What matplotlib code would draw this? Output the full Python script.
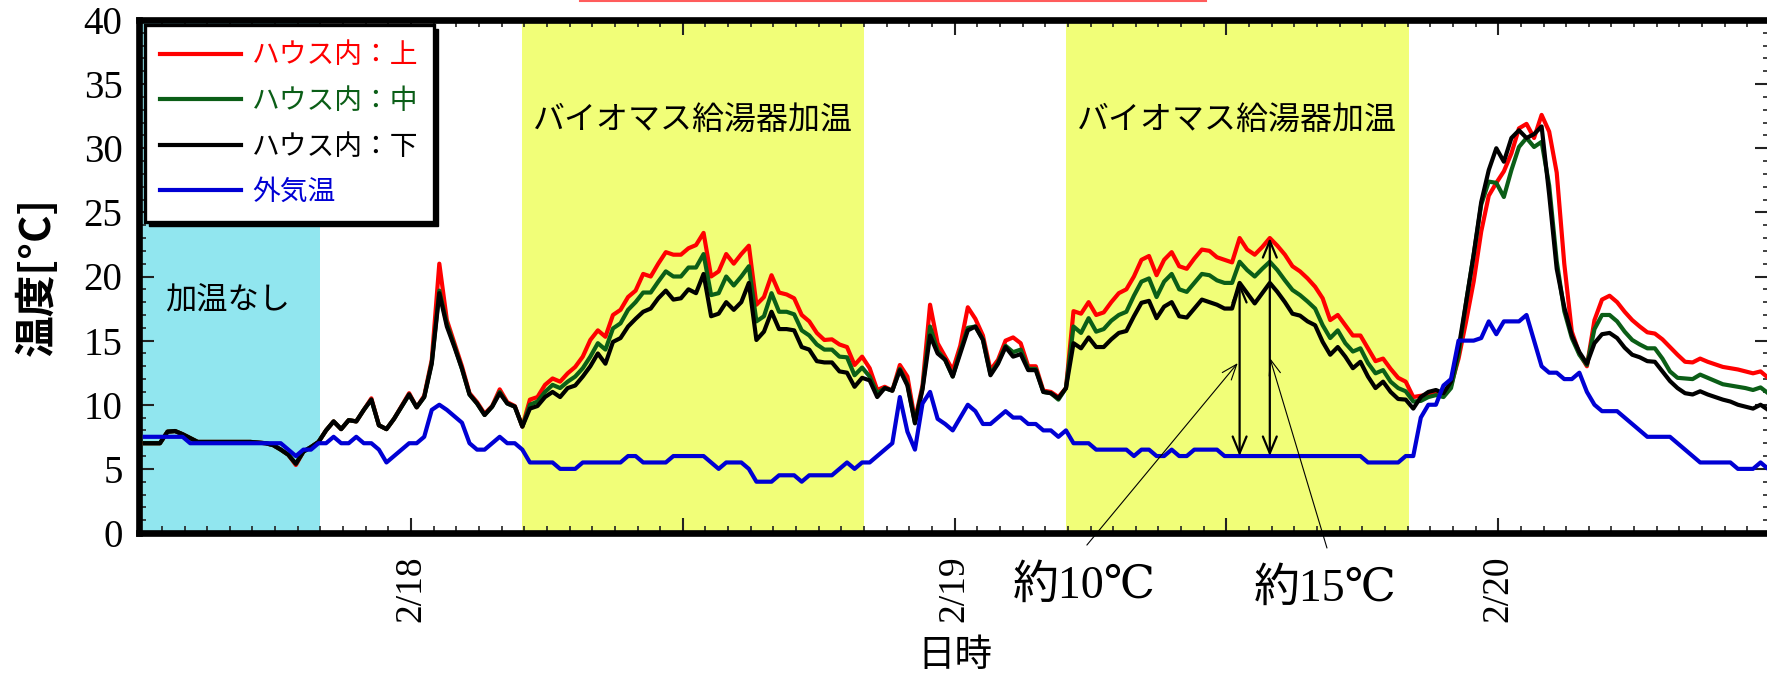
import numpy as np
import matplotlib.pyplot as plt
from matplotlib.lines import Line2D
from matplotlib.patches import Rectangle
from matplotlib.transforms import IdentityTransform
from matplotlib.ticker import FixedLocator, MultipleLocator, FuncFormatter

# 20分間隔の温度データ（2/17 12:15 から）
inside_top = [
    7.0, 7.0, 7.0, 7.9, 7.95, 7.7, 7.4, 7.1, 7.1, 7.1, 7.1, 7.1,
    7.1, 7.1, 7.1, 7.05, 7.0, 6.85, 6.5, 6.1, 5.3, 6.35, 6.7, 7.1,
    8.0, 8.7, 8.1, 8.8, 8.7, 9.6, 10.5, 8.4, 8.1, 8.9, 9.9, 10.9,
    9.8, 10.7, 13.5, 21.0, 16.6, 14.8, 13.0, 10.9, 10.2, 9.3, 9.9, 11.2,
    10.2, 9.9, 8.3, 10.4, 10.6, 11.55, 12.05, 11.8, 12.45, 12.95, 13.75, 15.05,
    15.8, 15.3, 17.0, 17.4, 18.4, 18.9, 20.2, 20.0, 21.0, 21.9, 21.7, 21.7,
    22.2, 22.45, 23.4, 20.0, 20.4, 21.75, 21.0, 21.75, 22.4, 17.8, 18.4, 20.1,
    18.75, 18.6, 18.3, 17.0, 16.5, 15.6, 15.05, 15.1, 14.7, 14.5, 13.1, 13.75,
    12.85, 11.15, 11.4, 11.1, 13.1, 12.2, 8.8, 11.5, 17.8, 14.8, 13.75, 12.7,
    14.6, 17.6, 16.7, 15.4, 12.7, 13.5, 15.0, 15.25, 14.8, 13.0, 13.0, 11.1,
    11.0, 10.6, 11.3, 17.3, 17.1, 18.0, 17.0, 17.2, 18.0, 18.7, 19.0, 20.0,
    21.3, 21.6, 20.1, 21.3, 21.9, 20.8, 20.6, 21.4, 22.1, 22.0, 21.5, 21.3,
    21.1, 23.0, 22.1, 21.7, 22.3, 23.0, 22.4, 21.7, 20.8, 20.4, 19.85, 19.2,
    18.3, 16.6, 17.0, 16.2, 15.4, 15.4, 14.4, 13.4, 13.6, 12.8, 12.1, 11.8,
    10.6, 10.7, 10.8, 10.9, 10.9, 11.5, 13.6, 16.5, 19.6, 23.5, 26.3, 27.3,
    28.2, 29.6, 31.55, 31.9, 30.8, 32.6, 31.3, 28.1, 21.0, 15.7, 14.0, 13.0,
    16.6, 18.2, 18.5, 18.0, 17.25, 16.6, 16.1, 15.65, 15.55, 15.1, 14.5, 13.9,
    13.35, 13.3, 13.6, 13.35, 13.15, 12.95, 12.85, 12.75, 12.6, 12.45, 12.6, 12.1,
]
inside_mid = [
    7.0, 7.0, 7.0, 7.9, 7.95, 7.7, 7.4, 7.1, 7.1, 7.1, 7.1, 7.1,
    7.1, 7.1, 7.1, 7.05, 7.0, 6.85, 6.5, 6.1, 5.4, 6.35, 6.7, 7.1,
    8.0, 8.7, 8.1, 8.8, 8.7, 9.6, 10.4, 8.4, 8.1, 8.9, 9.85, 10.8,
    9.8, 10.6, 13.3, 18.9, 16.3, 14.6, 12.8, 10.8, 10.1, 9.2, 9.85, 11.0,
    10.1, 9.85, 8.3, 10.0, 10.25, 11.0, 11.55, 11.3, 11.8, 12.2, 12.85, 13.75,
    14.8, 14.3, 15.95, 16.35, 17.4, 18.0, 18.75, 18.75, 19.6, 20.4, 20.0, 20.0,
    20.7, 20.7, 21.75, 18.55, 18.7, 20.0, 19.3, 20.0, 20.8, 16.5, 16.9, 18.7,
    17.25, 17.25, 17.05, 15.8, 15.4, 14.7, 14.3, 14.3, 13.75, 13.7, 12.3, 12.9,
    12.2, 10.9, 11.3, 11.1, 12.8, 11.6, 8.6, 11.3, 16.1, 14.2, 13.5, 12.2,
    14.2, 16.0, 16.1, 15.1, 12.4, 13.3, 14.6, 14.1, 14.3, 12.8, 12.8, 11.0,
    10.9, 10.4, 11.3, 16.1, 15.6, 16.75, 15.7, 15.9, 16.55, 17.0, 17.25, 18.5,
    19.6, 19.85, 18.4, 19.6, 20.2, 19.0, 18.8, 19.5, 20.2, 20.1, 19.7, 19.5,
    19.5, 21.15, 20.5, 20.0, 20.6, 21.15, 20.5, 19.7, 18.95, 18.55, 18.05, 17.5,
    16.2, 15.2, 15.8, 14.8, 14.15, 14.4, 13.25, 12.45, 12.7, 11.8, 11.3, 11.05,
    10.25, 10.3, 10.6, 10.75, 10.6, 11.3, 13.9, 18.0, 21.7, 25.6, 27.4, 27.3,
    26.2, 28.3, 30.1, 30.8, 30.1, 30.5, 27.1, 21.2, 17.3, 15.2, 13.9, 13.1,
    15.9, 17.0, 17.0, 16.5, 15.7, 15.05, 14.7, 14.4, 14.4, 13.6, 12.6, 12.1,
    12.05, 12.0, 12.35, 12.1, 11.85, 11.6, 11.5, 11.4, 11.3, 11.15, 11.35, 10.9,
]
inside_low = [
    7.0, 7.0, 7.0, 7.9, 7.95, 7.7, 7.4, 7.1, 7.1, 7.1, 7.1, 7.1,
    7.1, 7.1, 7.1, 7.05, 7.0, 6.85, 6.5, 6.1, 5.4, 6.35, 6.7, 7.1,
    8.0, 8.7, 8.1, 8.8, 8.7, 9.6, 10.4, 8.4, 8.1, 8.9, 9.85, 10.8,
    9.8, 10.6, 13.2, 18.7, 16.1, 14.5, 12.8, 10.8, 10.1, 9.2, 9.85, 10.9,
    10.1, 9.85, 8.3, 9.7, 9.9, 10.6, 11.0, 10.6, 11.3, 11.5, 12.2, 13.0,
    14.0, 13.2, 14.9, 15.2, 16.1, 16.7, 17.25, 17.5, 18.3, 18.9, 18.2, 18.3,
    19.0, 18.7, 20.2, 16.9, 17.1, 18.0, 17.4, 18.0, 19.5, 15.05, 15.7, 17.25,
    15.9, 15.9, 15.8, 14.5, 14.3, 13.4, 13.3, 13.3, 12.6, 12.5, 11.4, 12.1,
    11.9, 10.6, 11.3, 11.1, 12.7, 11.5, 8.55, 11.2, 15.4, 14.0, 13.5, 12.2,
    14.0, 15.8, 16.1, 15.05, 12.3, 13.2, 14.5, 13.75, 13.95, 12.7, 12.7, 11.0,
    10.9, 10.5, 11.3, 14.8, 14.4, 15.25, 14.5, 14.5, 15.1, 15.6, 15.75, 16.9,
    17.95, 18.1, 16.75, 17.65, 18.0, 16.9, 16.8, 17.5, 18.2, 18.0, 17.8, 17.5,
    17.5, 19.5, 18.7, 17.9, 18.7, 19.5, 18.8, 18.0, 17.1, 16.95, 16.5, 16.2,
    14.9, 13.9, 14.5, 13.75, 12.85, 13.35, 12.2, 11.3, 11.8, 11.0, 10.45, 10.4,
    9.7, 10.6, 11.0, 11.15, 10.9, 11.8, 14.4, 18.0, 21.7, 25.8, 28.3, 30.0,
    28.95, 30.8, 31.4, 30.8, 31.1, 31.7, 26.4, 20.6, 17.6, 15.4, 14.1, 13.2,
    14.8, 15.5, 15.6, 15.2, 14.45, 13.9, 13.7, 13.4, 13.35, 12.6, 11.85, 11.3,
    10.9, 10.8, 11.05, 10.8, 10.6, 10.4, 10.25, 10.0, 9.85, 9.7, 10.0, 9.6,
]
outside = [
    7.5, 7.5, 7.5, 7.5, 7.5, 7.5, 7.0, 7.0, 7.0, 7.0, 7.0, 7.0,
    7.0, 7.0, 7.0, 7.0, 7.0, 7.0, 7.0, 6.5, 6.0, 6.5, 6.5, 7.0,
    7.0, 7.5, 7.0, 7.0, 7.5, 7.0, 7.0, 6.5, 5.5, 6.0, 6.5, 7.0,
    7.0, 7.5, 9.6, 10.0, 9.6, 9.1, 8.6, 7.0, 6.5, 6.5, 7.0, 7.5,
    7.0, 7.0, 6.5, 5.5, 5.5, 5.5, 5.5, 5.0, 5.0, 5.0, 5.5, 5.5,
    5.5, 5.5, 5.5, 5.5, 6.0, 6.0, 5.5, 5.5, 5.5, 5.5, 6.0, 6.0,
    6.0, 6.0, 6.0, 5.5, 5.0, 5.5, 5.5, 5.5, 5.0, 4.0, 4.0, 4.0,
    4.5, 4.5, 4.5, 4.0, 4.5, 4.5, 4.5, 4.5, 5.0, 5.5, 5.0, 5.5,
    5.5, 6.0, 6.5, 7.0, 10.6, 7.9, 6.5, 10.1, 11.0, 8.9, 8.5, 8.0,
    9.0, 10.0, 9.5, 8.5, 8.5, 9.0, 9.5, 9.0, 9.0, 8.5, 8.5, 8.0,
    8.0, 7.5, 8.0, 7.0, 7.0, 7.0, 6.5, 6.5, 6.5, 6.5, 6.5, 6.0,
    6.5, 6.5, 6.0, 6.0, 6.5, 6.0, 6.0, 6.5, 6.5, 6.5, 6.5, 6.0,
    6.0, 6.0, 6.0, 6.0, 6.0, 6.0, 6.0, 6.0, 6.0, 6.0, 6.0, 6.0,
    6.0, 6.0, 6.0, 6.0, 6.0, 6.0, 5.5, 5.5, 5.5, 5.5, 5.5, 6.0,
    6.0, 9.0, 10.0, 10.0, 11.5, 12.0, 15.0, 15.0, 15.0, 15.2, 16.5, 15.5,
    16.5, 16.5, 16.5, 17.0, 15.0, 13.0, 12.5, 12.5, 12.0, 12.0, 12.5, 11.0,
    10.0, 9.5, 9.5, 9.5, 9.0, 8.5, 8.0, 7.5, 7.5, 7.5, 7.5, 7.0,
    6.5, 6.0, 5.5, 5.5, 5.5, 5.5, 5.5, 5.0, 5.0, 5.0, 5.5, 5.0,
]

labels = ['ハウス内：上', 'ハウス内：中', 'ハウス内：下', '外気温']
colors = ['#ff0000', '#0b5e17', '#000000', '#0000d4']

# 2/17 12:00 からの経過時間 [h]
no_heat = (0.0, 8.0)
heat_periods = [(16.9, 32.0), (40.9, 56.05)]
day_ticks = [12, 36, 60]
day_labels = ['2/18', '2/19', '2/20']

hours = 0.25 + np.arange(len(inside_top)) / 3.0

jp = 'Noto Sans CJK JP'
serif = 'Liberation Serif'

fig = plt.figure(figsize=(17.67, 6.76), dpi=100)
ax = fig.add_axes([139.2 / 1767, 143 / 676, 1630.8 / 1767, 513 / 676])

ax.axvspan(*no_heat, color='#91e6ef', lw=0, zorder=0)
for a, b in heat_periods:
    ax.axvspan(a, b, color='#f1fe78', lw=0, zorder=0)

for y, lab, c in zip([inside_top, inside_mid, inside_low, outside], labels, colors):
    ax.plot(hours, y, color=c, lw=3.0, label=lab, zorder=3)

ax.set_xlim(0, 72)
ax.set_ylim(0, 40)

ax.xaxis.set_major_locator(FixedLocator(np.arange(0, 73, 12)))
ax.xaxis.set_minor_locator(MultipleLocator(1))
ax.xaxis.set_major_formatter(FuncFormatter(
    lambda v, p: day_labels[day_ticks.index(int(round(v)))] if int(round(v)) in day_ticks else ''))
ax.yaxis.set_major_locator(MultipleLocator(5))
ax.yaxis.set_minor_locator(MultipleLocator(1))

ax.tick_params(which='both', direction='in', top=True, right=True, color='#222222')
ax.tick_params(which='major', length=11, width=1.5)
ax.tick_params(which='minor', length=5, width=1.2)
ax.tick_params(axis='y', which='major', pad=12, labelsize=28)
ax.tick_params(axis='x', which='major', pad=16, labelsize=27, labelrotation=90)
for t in ax.get_xticklabels() + ax.get_yticklabels():
    t.set_family(serif)

for s in ['left', 'bottom', 'top']:
    ax.spines[s].set_linewidth(4.8)
ax.spines['right'].set_linewidth(1.5)

ax.set_ylabel('温度[°C]', fontsize=30, family=jp, weight='bold')
ax.yaxis.set_label_coords(-0.0495, 0.5)
ax.set_xlabel('日時', fontsize=27, family=jp)
ax.xaxis.set_label_coords(0.5, -0.2)

# 期間ラベル
ax.text(3.9, 18.2, '加温なし', fontsize=22.5, family=jp, ha='center', va='center', zorder=4)
for a, b in heat_periods:
    ax.text((a + b) / 2, 32.2, 'バイオマス給湯器加温', fontsize=23, family=jp,
            ha='center', va='center', zorder=4)

# 温度差の矢印
for i, top in [(145, inside_low), (149, inside_top)]:
    ax.annotate('', xy=(hours[i], outside[i]), xytext=(hours[i], top[i]),
                arrowprops=dict(arrowstyle='<->,head_length=0.6,head_width=0.25',
                                mutation_scale=20, lw=1.6, color='black',
                                shrinkA=0, shrinkB=0), zorder=5)

notes = [('約10℃', (41.75, -4.2), (41.84, -0.94), (48.5, 13.25)),
         ('約15℃', (52.36, -4.37), (52.44, -1.17), (49.92, 13.65))]
for txt, tpos, start, tip in notes:
    ax.text(*tpos, txt, fontsize=33, family=[serif, 'DejaVu Serif', jp],
            ha='center', va='center', clip_on=False)
    ax.annotate('', xy=tip, xytext=start, annotation_clip=False,
                arrowprops=dict(arrowstyle='->,head_length=0.8,head_width=0.3',
                                mutation_scale=14, lw=0.8, color='black',
                                shrinkA=0, shrinkB=0))

leg = ax.legend(loc='upper left', bbox_to_anchor=(0.0036, 0.99), borderaxespad=0,
                prop={'family': jp, 'size': 20}, labelcolor='linecolor',
                handlelength=2.9, handletextpad=0.4, labelspacing=0.56,
                borderpad=0.55, fancybox=False, framealpha=1, edgecolor='black')
leg.get_frame().set_linewidth(2.4)
leg.set_zorder(10)

# 凡例の影（右下に黒くずらす）
fig.canvas.draw()
bb = leg.get_frame().get_window_extent()
ax.add_patch(Rectangle((bb.x0 + 4, bb.y0 - 4), bb.width, bb.height,
                       transform=IdentityTransform(), color='black',
                       clip_on=False, zorder=9))

# 上端の赤線（元図のタイトル枠の一部）
fig.add_artist(Line2D([580 / 1767, 1206 / 1767], [1 - 1 / 676, 1 - 1 / 676],
                      color='#ff5c5c', lw=1.5))

fig.savefig('out.png', dpi=100)
